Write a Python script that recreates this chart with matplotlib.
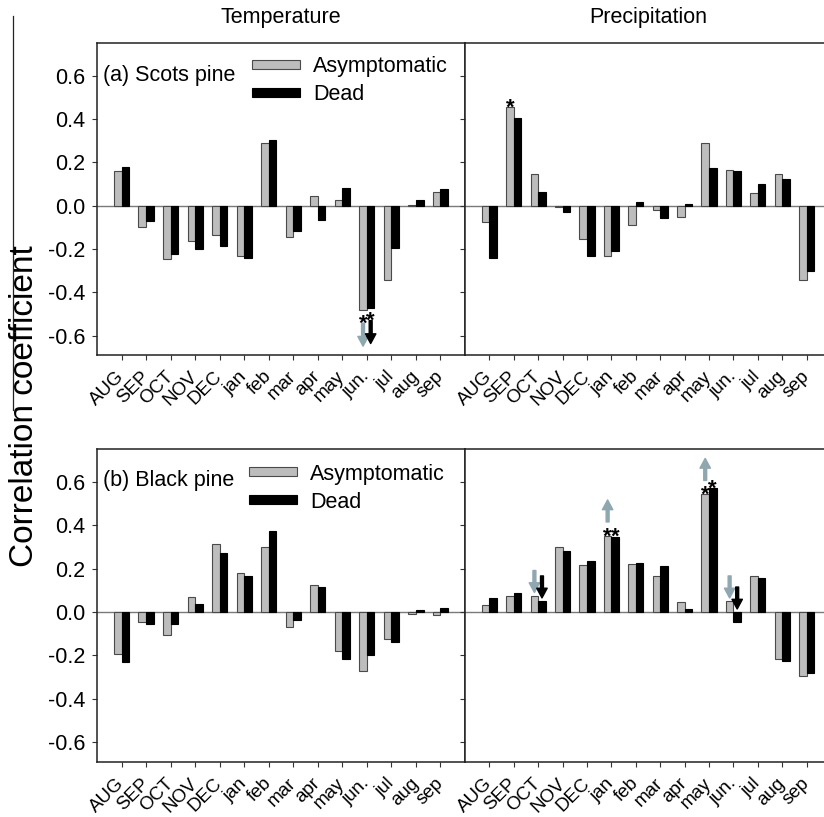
import matplotlib
matplotlib.use("Agg")
import matplotlib.pyplot as plt
from matplotlib.transforms import offset_copy
from matplotlib.lines import Line2D
import numpy as np

plt.rcParams['font.family'] = ['Liberation Sans', 'DejaVu Sans']
plt.rcParams['axes.unicode_minus'] = False

# ---------------- data ----------------
months = ['AUG', 'SEP', 'OCT', 'NOV', 'DEC', 'jan', 'feb', 'mar', 'apr', 'may', 'jun.', 'jul', 'aug', 'sep']
series_labels = ['Asymptomatic', 'Dead']
column_titles = ['Temperature', 'Precipitation']
panel_labels = ['(a) Scots pine', '(b) Black pine']

scots_temp_asym = [0.158, -0.097, -0.246, -0.162, -0.135, -0.235, 0.289, -0.145, 0.042, 0.025, -0.483, -0.345, 0.003, 0.063]
scots_temp_dead = [0.177, -0.071, -0.225, -0.200, -0.185, -0.243, 0.302, -0.117, -0.066, 0.080, -0.471, -0.198, 0.025, 0.077]
scots_prec_asym = [-0.078, 0.455, 0.146, -0.008, -0.154, -0.231, -0.089, -0.022, -0.051, 0.289, 0.163, 0.057, 0.145, -0.345]
scots_prec_dead = [-0.243, 0.403, 0.063, -0.032, -0.234, -0.208, 0.014, -0.058, 0.008, 0.172, 0.160, 0.098, 0.122, -0.303]
black_temp_asym = [-0.194, -0.048, -0.108, 0.069, 0.312, 0.180, 0.298, -0.071, 0.126, -0.179, -0.273, -0.125, -0.008, -0.014]
black_temp_dead = [-0.228, -0.054, -0.054, 0.035, 0.271, 0.164, 0.372, -0.035, 0.117, -0.214, -0.197, -0.140, 0.008, 0.019]
black_prec_asym = [0.032, 0.076, 0.076, 0.301, 0.216, 0.350, 0.222, 0.167, 0.045, 0.541, 0.051, 0.167, -0.217, -0.295]
black_prec_dead = [0.066, 0.086, 0.051, 0.281, 0.234, 0.347, 0.225, 0.213, 0.012, 0.571, -0.046, 0.156, -0.224, -0.279]

yticks = [-0.6, -0.4, -0.2, 0.0, 0.2, 0.4, 0.6]

# significance markers: (month index, series) ; arrows: (month index, series, direction)
stars_a_temp = [(10, 'asym'), (10, 'dead')]
arrows_a_temp = [(10, 'asym', 'down'), (10, 'dead', 'down')]
stars_a_prec = [(1, 'asym')]
arrows_a_prec = []
stars_b_temp = []
arrows_b_temp = []
stars_b_prec = [(5, 'asym'), (5, 'dead'), (9, 'asym'), (9, 'dead')]
arrows_b_prec = [(2, 'asym', 'down'), (2, 'dead', 'down'), (5, 'asym', 'up'),
                 (9, 'asym', 'up'), (10, 'asym', 'down'), (10, 'dead', 'down')]

# ---------------- styling ----------------
W, H = 824, 817
GREY = '#bdbdbd'
GREY_EDGE = '#4a4a4a'
ARROW_GREY = '#8fa7b0'
FS = 15.5
FS_MONTH = 13.5
FS_STAR = 16
BW = 0.31

fig = plt.figure(figsize=(W / 100, H / 100), dpi=100)


def rect(x0, y0, x1, y1):
    return [x0 / W, 1 - y1 / H, (x1 - x0) / W, (y1 - y0) / H]


ax_tl = fig.add_axes(rect(97, 43, 465, 355))
ax_tr = fig.add_axes(rect(465, 43, 831, 355))
ax_bl = fig.add_axes(rect(97, 449, 465, 762))
ax_br = fig.add_axes(rect(465, 449, 831, 762))

panels = [
    (ax_tl, scots_temp_asym, scots_temp_dead, stars_a_temp, arrows_a_temp),
    (ax_tr, scots_prec_asym, scots_prec_dead, stars_a_prec, arrows_a_prec),
    (ax_bl, black_temp_asym, black_temp_dead, stars_b_temp, arrows_b_temp),
    (ax_br, black_prec_asym, black_prec_dead, stars_b_prec, arrows_b_prec),
]

star_center = 0.58 * FS_STAR / 0.72  # px from baseline to star centre

x = np.arange(len(months))
containers = {}
for k, (ax, asym, dead, stars, arrows) in enumerate(panels):
    b1 = ax.bar(x - BW / 2, asym, BW, color=GREY, edgecolor=GREY_EDGE, linewidth=0.8, zorder=3)
    b2 = ax.bar(x + BW / 2, dead, BW, color='black', edgecolor='black', linewidth=0.8, zorder=3)
    containers[k] = (b1, b2)
    ax.axhline(0, color='#7a7a7a', lw=1.0, zorder=2)
    ax.set_xlim(-1, len(months))
    ax.set_ylim(-0.69, 0.75)
    ax.set_xticks(x)
    ax.set_xticklabels(months, rotation=45, ha='right', va='center', rotation_mode='anchor', fontsize=FS_MONTH)
    ax.set_yticks(yticks)
    ax.tick_params(axis='both', direction='out', length=5 * 0.72, width=0.8, color='#333333', labelsize=FS)
    ax.tick_params(axis='x', pad=10, labelsize=FS_MONTH)
    ax.tick_params(axis='y', pad=5)
    for s in ax.spines.values():
        s.set_linewidth(1.1)
        s.set_color('#222222')
    if k in (1, 3):
        ax.tick_params(axis='y', labelleft=False)
        ax.spines['right'].set_visible(False)
    else:
        ax.set_yticklabels(['%.1f' % v for v in yticks])

    vals = {'asym': asym, 'dead': dead}
    xoff = {'asym': -BW / 2, 'dead': BW / 2}
    for (i, s) in stars:
        v = vals[s][i]
        if v >= 0:
            dy = 6.5 - star_center
        else:
            dy = -6.5 - star_center
        tr = offset_copy(ax.transData, fig=fig, x=0, y=dy, units='dots')
        ax.text(i + xoff[s], v, '*', transform=tr, ha='center', va='baseline',
                fontsize=FS_STAR, fontweight='bold', zorder=5)
    for (i, s, d) in arrows:
        v = vals[s][i]
        col = ARROW_GREY if s == 'asym' else 'black'
        has_star = any(j == i for (j, _) in stars)
        if v < 0 and d == 'down' and has_star:
            tail, tip = -13, -36
            anchor = v
        elif d == 'up':
            anchor = max(v, 0)
            tail, tip = 14, 36
        else:  # arrow pointing down onto bar top
            anchor = max(v, 0)
            tail, tip = 25, 3
        tr = offset_copy(ax.transData, fig=fig, x=0, y=tip, units='dots')
        ax.annotate('', xy=(i + xoff[s], anchor), xycoords=tr,
                    xytext=(0, tail - tip), textcoords='offset pixels',
                    arrowprops=dict(width=2.1, headwidth=7.5, headlength=7, color=col, shrink=0),
                    zorder=6)

# titles
for ax, t in zip((ax_tl, ax_tr), column_titles):
    ax.text(0.5, 1 + 20.5 / 312, t, transform=ax.transAxes, ha='center', va='baseline', fontsize=FS)

# panel labels
ax_tl.text(6 / 368, 0.897, panel_labels[0], transform=ax_tl.transAxes, ha='left', va='center', fontsize=FS)
ax_bl.text(6 / 368, 0.898, panel_labels[1], transform=ax_bl.transAxes, ha='left', va='center', fontsize=FS)

# legends
for ax, k, (lx, ly) in ((ax_tl, 0, (0.421, 0.958)), (ax_bl, 2, (0.413, 0.953))):
    ax.legend(containers[k], series_labels, loc='upper left', bbox_to_anchor=(lx, ly),
              frameon=False, fontsize=FS, handlelength=2.23, handleheight=0.27,
              handletextpad=0.6, labelspacing=0.32, borderpad=0, borderaxespad=0)

# y label
fig.text(9 / W, 1 - 406 / H, 'Correlation coefficient', rotation=90, ha='left', va='center', fontsize=24)
fig.add_artist(Line2D([13 / W, 13 / W], [1 - 16 / H, 1 - 410 / H], color='#222222', lw=0.9))

fig.savefig('out.png', dpi=100)
